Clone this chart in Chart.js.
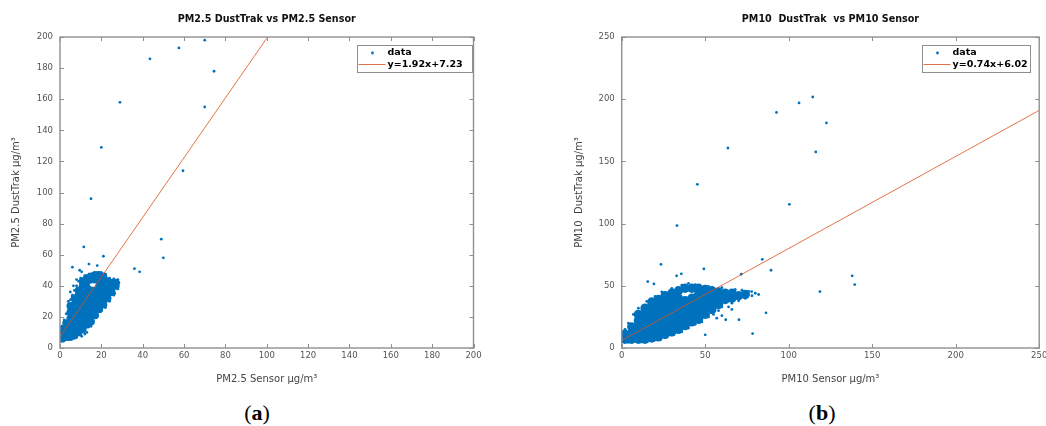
<!DOCTYPE html>
<html lang="en">
<head>
<meta charset="utf-8">
<title>PM2.5 / PM10 DustTrak vs Sensor</title>
<script src="https://cdn.jsdelivr.net/npm/chart.js@4.4.1/dist/chart.umd.min.js"></script>
<style>
    html, body { margin: 0; padding: 0; background: #fff; overflow: hidden; }
    .page { position: relative; width: 1046px; height: 426px; overflow: hidden; }
    .panel { position: absolute; top: 0; }
    .caption {
        position: absolute; top: 401px; width: 60px; margin-left: -30px;
        text-align: center; font-family: "Liberation Serif", serif;
        font-size: 22px; line-height: 24px; color: #000;
    }
</style>
</head>
<body>
<div class="page">
    <canvas id="chartA" class="panel" style="left:0" width="523" height="395"></canvas>
    <canvas id="chartB" class="panel" style="left:523px" width="530" height="395"></canvas>
    <div class="caption" style="left:257px">(<b>a</b>)</div>
    <div class="caption" style="left:822px">(<b>b</b>)</div>
</div>
<script>
// Деления осей
const ticksA = [0, 20, 40, 60, 80, 100, 120, 140, 160, 180, 200];
const ticksB = [0, 50, 100, 150, 200, 250];

// Линейная аппроксимация: [наклон, сдвиг] и диапазон по x
const fitA = [1.92, 7.23];
const fitRangeA = [0, 100];
const fitB = [0.74, 6.02];
const fitRangeB = [0, 250];

// PM2.5: плотное облако точек (сенсор, DustTrak)
const pm25Core = [
    [1,6],[1,9],[1,12],
    [3,7],[3,10],[3,13],[3,16],
    [5,7],[5,11],[5,15],[5,19],[5,23],[5,27],
    [7,8],[7,12],[7,16],[7,20],[7,24],[7,28],[7,32],
    [9,10],[9,14],[9,18],[9,22],[9,26],[9,30],[9,34],[9,37],
    [11,12],[11,16],[11,20],[11,24],[11,28],[11,32],[11,36],[11,40],[11,43],
    [13,15],[13,19],[13,23],[13,27],[13,31],[13,35],[13,39],[13,43],[13,45],
    [15,17],[15,21],[15,25],[15,29],[15,33],[15,37],[15,44],[15,46],
    [17,21],[17,25],[17,29],[17,33],[17,37],[17,44],[17,47],
    [19,25],[19,29],[19,33],[19,37],[19,40],[19,44],[19,47],
    [21,28],[21,32],[21,36],[21,40],[21,43],[21,46],
    [23,32],[23,36],[23,40],[23,43],
    [25,36],[25,39],[25,42],
    [27,40],[27,42]
];

// PM2.5: отдельные точки и выбросы
const pm25Points = [
    [70,198],[57.5,193],[43.5,186],[74.5,178],[29,158],[70,155],[20,129],[59.5,114],
    [15,96],[49,70],[50,58],[11.5,65],[21,59],[36,51],[38.5,49],[6,52],[14,54],[18,53],
    [9.5,50],[10.5,49],[20,28],[26.5,35],[13,10],[10.5,7.5],[12.6,18.6],[12.6,16.2],
    [0.5,4.5],[2,4.8],[4,5.5],[6,6],[8,7],[12,9],[15,14],[16,17],[18,21],[22,26],
    [24,30],[26,34],[28,38],[28.5,42],[28,44],[26,44.5],[24,45],[22,47.5],[20,48.5],
    [18,48.5],[16,48],[14,47.5],[12,46.5],[10,45],[9,43],[8,40],[7,37],[6,34],[5,31],
    [4,27],[3,22],[2,18],[1,14],[0.5,11],[12,41],[10,42],[8,44],[6.5,40],[5,36],[4,30]
];

// PM10: плотное облако точек
const pm10Core = [
    [2,7],[2,11],
    [6,7],[6,12],[6,17],
    [10,7],[10,12],[10,17],[10,22],[10,27],
    [14,7],[14,12],[14,17],[14,22],[14,27],[14,32],
    [18,8],[18,13],[18,18],[18,23],[18,28],[18,33],[18,37],
    [22,9],[22,14],[22,19],[22,24],[22,29],[22,34],[22,39],
    [26,11],[26,16],[26,21],[26,26],[26,31],[26,36],[26,42],
    [30,13],[30,18],[30,23],[30,28],[30,33],[30,38],[30,44],
    [34,15],[34,20],[34,25],[34,30],[34,35],[34,40],[34,46],
    [38,18],[38,23],[38,28],[38,33],[38,38],[38,48],
    [42,21],[42,26],[42,31],[42,36],[42,40],[42,48],
    [46,23],[46,28],[46,33],[46,38],[46,43],[46,48],
    [50,27],[50,32],[50,37],[50,42],[50,47],
    [54,31],[54,36],[54,41],[54,46],
    [58,35],[58,40],[58,45],
    [62,39],[62,44],
    [66,40],[66,44],
    [70,42],
    [74,43]
];

// PM10: отдельные точки и выбросы
const pm10Points = [
    [114.4,201.8],[106.2,197],[92.7,189.4],[122.6,180.9],[116.2,157.6],[63.6,160.8],
    [45.3,131.6],[100.4,115.5],[33.1,98.4],[23.5,67.3],[84.2,71.3],[89.4,62.5],
    [49.2,63.6],[32.9,58],[35.7,59.6],[71.6,59.3],[138,58],[139.5,51],[118.7,45.4],
    [86.4,28.3],[78.4,11.6],[50,10.6],[70.2,22.7],[62.3,22.7],[56.9,24],[77.8,45.4],
    [67.8,46.7],[15.6,53.4],[19.3,51.5],
    [1,5],[4,4.5],[12,4.8],[20,6.5],[30,10.5],[40,16],[48,21],[52,25],[58,30],[60,33],
    [66,36],[70,38],[74,40],[78,42],[80,44],[76,45.5],[72,46.5],[68,47],[60,48.5],
    [52,49.5],[44,51],[40,52],[36,50.5],[30,48],[24,45],[20,41.5],[15,37.5],[10,32],
    [7,27],[4,20],[2,15],[55,27],[64,33],[44,19],[36,13],[26,8.5],[60,26],[66,31],
    [82,43],[75,42]
];

const BLUE = '#0072BD';
const ORANGE = 'rgba(217, 83, 25, 0.8)';
const FONT = 'DejaVu Sans';

function toXY(arr) {
    return arr.map(p => ({ x: p[0], y: p[1] }));
}

function fitLine(coef, range) {
    return range.map(x => ({ x: x, y: coef[0] * x + coef[1] }));
}

function fitLabel(coef) {
    return 'y=' + coef[0].toFixed(2) + 'x+' + coef[1].toFixed(2);
}

// Рамка осей и засечки внутрь, как в MATLAB
const axesBox = {
    id: 'axesBox',
    afterDatasetsDraw(chart) {
        const { ctx, chartArea: a } = chart;
        const sx = chart.scales.x, sy = chart.scales.y;
        ctx.save();
        ctx.strokeStyle = '#8f8f8f';
        ctx.lineWidth = 1;
        ctx.beginPath();
        sx.ticks.forEach(t => {
            const px = Math.round(sx.getPixelForValue(t.value)) + 0.5;
            ctx.moveTo(px, a.bottom); ctx.lineTo(px, a.bottom - 4);
            ctx.moveTo(px, a.top); ctx.lineTo(px, a.top + 4);
        });
        sy.ticks.forEach(t => {
            const py = Math.round(sy.getPixelForValue(t.value)) + 0.5;
            ctx.moveTo(a.left, py); ctx.lineTo(a.left + 4, py);
            ctx.moveTo(a.right, py); ctx.lineTo(a.right - 4, py);
        });
        ctx.stroke();
        ctx.lineWidth = 1.4;
        ctx.strokeRect(a.left, a.top, a.right - a.left, a.bottom - a.top);
        ctx.restore();
    }
};

// Легенда внутри области графика (правый верхний угол)
const insetLegend = {
    id: 'insetLegend',
    afterDraw(chart, args, opts) {
        const { ctx, chartArea: a } = chart;
        const x0 = Math.round(a.right - opts.right - opts.width) + 0.5;
        const y0 = Math.round(a.top + opts.top) + 0.5;
        const row1 = y0 + 7.5, row2 = y0 + 19;
        ctx.save();
        ctx.fillStyle = '#fff';
        ctx.fillRect(x0, y0, opts.width, opts.height);
        ctx.strokeStyle = '#8f8f8f';
        ctx.lineWidth = 1;
        ctx.strokeRect(x0, y0, opts.width, opts.height);

        ctx.fillStyle = BLUE;
        ctx.beginPath();
        ctx.arc(x0 + 15, row1, 1.4, 0, Math.PI * 2);
        ctx.fill();

        ctx.strokeStyle = ORANGE;
        ctx.beginPath();
        ctx.moveTo(x0 + 1, row2);
        ctx.lineTo(x0 + 28, row2);
        ctx.stroke();

        ctx.fillStyle = '#000';
        ctx.font = 'bold 9.5px "DejaVu Sans"';
        ctx.textBaseline = 'middle';
        ctx.fillText(chart.data.datasets[1].label, x0 + 30, row1);
        ctx.fillText(chart.data.datasets[0].label, x0 + 30, row2);
        ctx.restore();
    }
};

function axis(ticks, titleText, horizontal, size) {
    return {
        type: 'linear',
        min: ticks[0],
        max: ticks[ticks.length - 1],
        afterBuildTicks: s => { s.ticks = ticks.map(v => ({ value: v })); },
        afterFit: s => { if (horizontal) s.height = size; else s.width = size; },
        grid: { display: false, drawTicks: false },
        border: { display: false },
        ticks: {
            autoSkip: false, maxRotation: 0,
            padding: horizontal ? 3 : 7,
            color: '#555',
            font: { family: FONT, size: 8.5 }
        },
        title: {
            display: true,
            text: titleText,
            color: '#444',
            font: { family: FONT, size: 10 },
            padding: horizontal ? { top: 4, bottom: 4 } : { top: 10, bottom: 0 }
        }
    };
}

function makeChart(id, p) {
    return new Chart(document.getElementById(id), {
        type: 'scatter',
        data: {
            datasets: [
                { label: fitLabel(p.coef), data: fitLine(p.coef, p.range), showLine: true,
                  borderColor: ORANGE, borderWidth: 1, pointRadius: 0, order: 0 },
                { label: 'data', data: toXY(p.points), backgroundColor: BLUE,
                  borderWidth: 0, pointRadius: 1.4, order: 1 },
                { label: 'data', data: toXY(p.core), backgroundColor: BLUE,
                  borderWidth: 0, pointRadius: p.coreRadius, order: 2 }
            ]
        },
        options: {
            responsive: false,
            animation: false,
            layout: { padding: p.padding },
            plugins: {
                legend: { display: false },
                tooltip: { enabled: false },
                title: {
                    display: true, text: p.title, fullSize: false, color: '#111',
                    font: { family: FONT, size: 9.6, weight: 'bold' },
                    padding: { top: 14, bottom: 11.5 }
                },
                insetLegend: p.legend
            },
            scales: {
                x: axis(p.ticks, p.xTitle, true, 41),
                y: axis(p.ticks, p.yTitle, false, p.yWidth)
            }
        },
        plugins: [axesBox, insetLegend]
    });
}

makeChart('chartA', {
    title: 'PM2.5 DustTrak vs PM2.5 Sensor',
    xTitle: 'PM2.5 Sensor μg/m³',
    yTitle: 'PM2.5 DustTrak μg/m³',
    ticks: ticksA,
    coef: fitA, range: fitRangeA,
    core: pm25Core, points: pm25Points, coreRadius: 3.9,
    padding: { left: 0, right: 49.5, top: 0, bottom: 6 },
    yWidth: 60,
    legend: { right: 1.5, top: 8, width: 115, height: 27 }
});

makeChart('chartB', {
    title: 'PM10  DustTrak  vs PM10 Sensor',
    xTitle: 'PM10 Sensor μg/m³',
    yTitle: 'PM10  DustTrak μg/m³',
    ticks: ticksB,
    coef: fitB, range: fitRangeB,
    core: pm10Core, points: pm10Points, coreRadius: 4.7,
    padding: { left: 40, right: 13.8, top: 0, bottom: 6 },
    yWidth: 58.7,
    legend: { right: 9, top: 8, width: 108, height: 27 }
});
</script>
</body>
</html>
